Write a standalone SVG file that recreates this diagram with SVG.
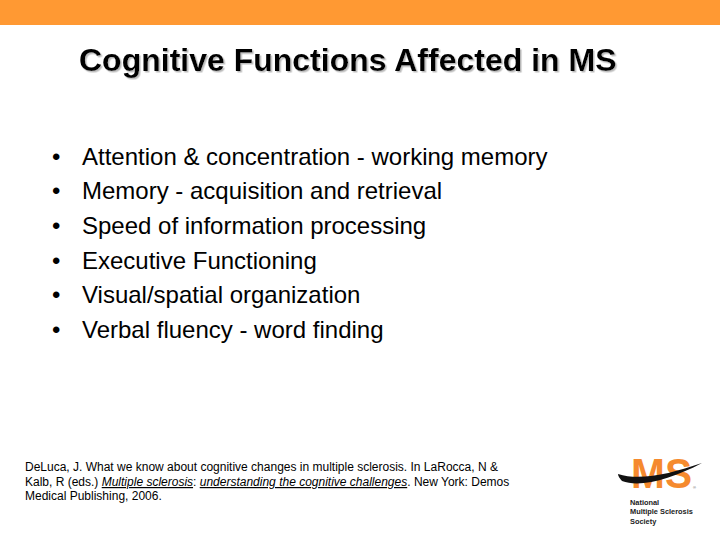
<svg xmlns="http://www.w3.org/2000/svg" width="720" height="540" viewBox="0 0 720 540">
<defs>
<filter id="sh" x="-5%" y="-20%" width="110%" height="140%">
<feDropShadow dx="1.5" dy="1.5" stdDeviation="0.4" flood-color="#bcbcbc"/>
</filter>
</defs>
<style>
text{font-family:"Liberation Sans",Arial,sans-serif;fill:#000}
.t{font-size:32px;font-weight:bold;filter:url(#sh)}
.b{font-size:24px}
.r{font-size:12px}
.l{font-size:7.4px;font-weight:bold;fill:#222}
</style>
<rect width="720" height="540" fill="#fff"/>
<rect id="band" width="720" height="25" fill="#ff9933"/>
<g id="title">
<text class="t" x="79" y="71">Cognitive Functions Affected in MS</text>
</g>
<g id="bullets">
<text class="b" x="52" y="165">•</text><text class="b" x="82" y="165">Attention &amp; concentration - working memory</text>
<text class="b" x="52" y="199">•</text><text class="b" x="82" y="199">Memory - acquisition and retrieval</text>
<text class="b" x="52" y="234">•</text><text class="b" x="82" y="234">Speed of information processing</text>
<text class="b" x="52" y="269">•</text><text class="b" x="82" y="269">Executive Functioning</text>
<text class="b" x="52" y="303">•</text><text class="b" x="82" y="303">Visual/spatial organization</text>
<text class="b" x="52" y="338">•</text><text class="b" x="82" y="338">Verbal fluency - word finding</text>
</g>
<g id="reference">
<text class="r" x="25" y="471">DeLuca, J. What we know about cognitive changes in multiple sclerosis. In LaRocca, N &amp;</text>
<text class="r" x="25" y="486">Kalb, R (eds.) <tspan font-style="italic" text-decoration="underline">Multiple sclerosis</tspan>: <tspan font-style="italic" text-decoration="underline">understanding the cognitive challenges</tspan>. New York: Demos</text>
<text class="r" x="25" y="500">Medical Publishing, 2006.</text>
</g>
<g id="logo">
<text x="631" y="488" font-size="42" font-weight="bold" style="fill:#f58a2e" textLength="61" lengthAdjust="spacingAndGlyphs">MS</text>
<path d="M618 474C640 481 670 474 702 463C672 479 640 488 622 481C620 479 618 476 618 474Z" fill="#111"/>
<text x="693" y="489" font-size="4" style="fill:#555">®</text>
<text class="l" x="630" y="505">National</text>
<text class="l" x="630" y="514">Multiple Sclerosis</text>
<text class="l" x="630" y="524">Society</text>
</g>
</svg>
